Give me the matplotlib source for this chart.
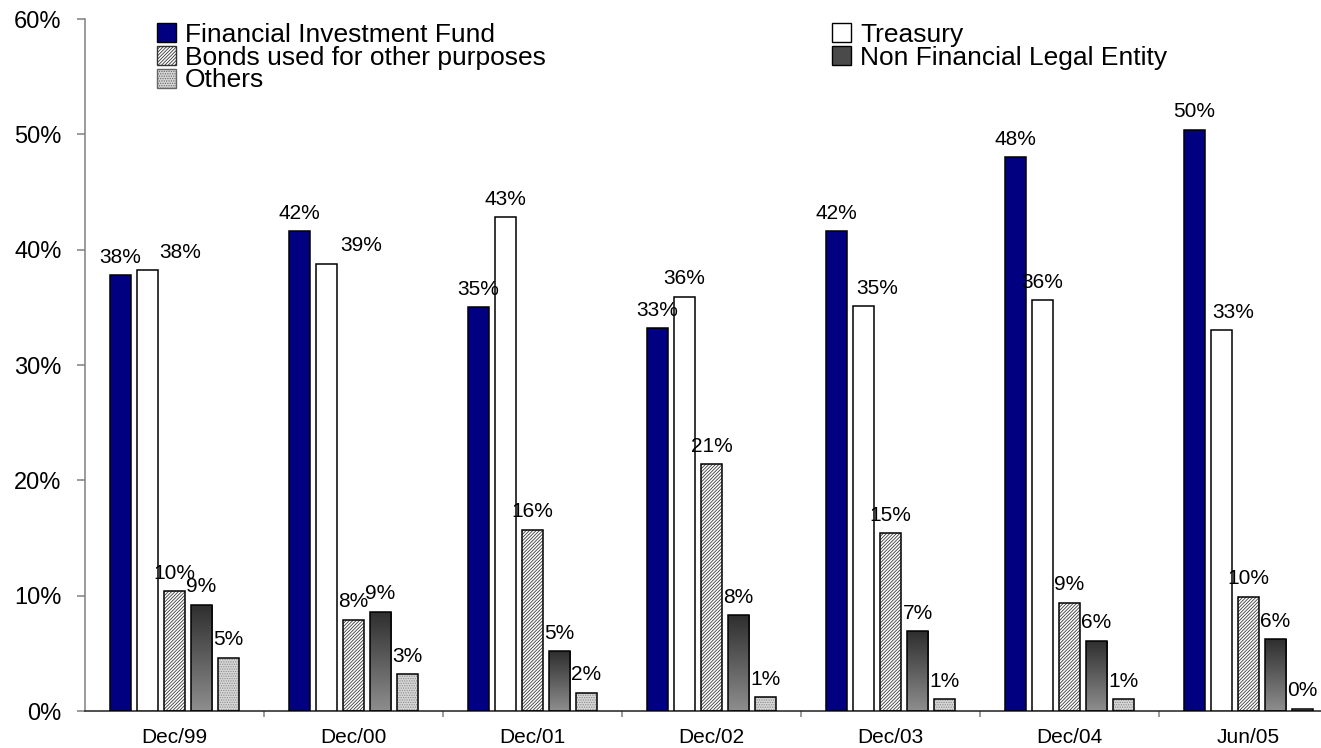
import numpy as np
import matplotlib.pyplot as plt
from matplotlib.patches import Patch
from matplotlib.colors import LinearSegmentedColormap
from matplotlib.ticker import PercentFormatter, FixedLocator

plt.rcParams['font.family'] = ['Liberation Sans', 'DejaVu Sans']
plt.rcParams['hatch.linewidth'] = 0.6

periods = ['Dec/99', 'Dec/00', 'Dec/01', 'Dec/02', 'Dec/03', 'Dec/04', 'Jun/05']
investment_fund = [37.8, 41.6, 35.0, 33.2, 41.6, 48.0, 50.4]
treasury = [38.2, 38.8, 42.8, 35.9, 35.1, 35.6, 33.0]
other_bonds = [10.4, 7.9, 15.7, 21.4, 15.4, 9.4, 9.9]
non_financial = [9.2, 8.6, 5.2, 8.3, 6.9, 6.1, 6.2]
others = [4.6, 3.2, 1.6, 1.2, 1.0, 1.0, 0.2]

# treasury labels sit a little to the right in some periods (pixels)
treasury_label_shift = [33, 35, 0, 0, 14, 0, 12]

W, H = 1321, 748
fig = plt.figure(figsize=(W / 100, H / 100), dpi=100)
ax = fig.add_axes([85 / W, 37 / H, 7 * 179 / W, 692 / H])

x = np.arange(len(periods))
step = 0.151
width = 0.118
edge = dict(edgecolor='black', linewidth=1.1)

b_fund = ax.bar(x - 2 * step, investment_fund, width, color='#000080', zorder=3, **edge)
b_tre = ax.bar(x - step, treasury, width, color='white', zorder=3, **edge)

# hatched bars: hatch layer first, black outline on top
ax.bar(x, other_bonds, width, color='white', edgecolor='#3a3a3a', hatch='//////////', linewidth=0, zorder=2)
b_bonds = ax.bar(x, other_bonds, width, facecolor='none', zorder=3, **edge)

# gradient bars, dark at the top
b_nf = ax.bar(x + step, non_financial, width, facecolor='none', zorder=3, **edge)
grad = np.linspace(0, 1, 256).reshape(-1, 1)
cmap = LinearSegmentedColormap.from_list('nf', ['#8e8e8e', '#2e2e2e'])
for bar in b_nf:
    x0, w, h = bar.get_x(), bar.get_width(), bar.get_height()
    im = ax.imshow(grad, cmap=cmap, extent=[x0, x0 + w, 0, h], origin='lower',
                   aspect='auto', zorder=2)
    im.set_clip_path(bar)

ax.bar(x + 2 * step, others, width, color='#d6d6d6', edgecolor='#8c8c8c', hatch='.......', linewidth=0, zorder=2)
b_oth = ax.bar(x + 2 * step, others, width, facecolor='none', zorder=3, **edge)

ax.set_xlim(-0.5, len(periods) - 0.5)
ax.set_ylim(0, 60)


def label_bars(bars, values, shifts=None):
    for i, (bar, v) in enumerate(zip(bars, values)):
        dx = 0 if shifts is None else shifts[i] * 0.72
        ax.annotate(f'{v:.0f}%', (bar.get_x() + bar.get_width() / 2, v),
                    xytext=(dx, 9), textcoords='offset points',
                    ha='center', va='baseline', fontsize=15, zorder=4)


label_bars(b_fund, investment_fund)
label_bars(b_tre, treasury, treasury_label_shift)
label_bars(b_bonds, other_bonds)
label_bars(b_nf, non_financial)
label_bars(b_oth, others)

# axes styling
for side in ['top', 'right']:
    ax.spines[side].set_visible(False)
ax.spines['left'].set_color('#808080')
ax.spines['left'].set_linewidth(1.1)
ax.spines['bottom'].set_color('#202020')
ax.spines['bottom'].set_linewidth(1.1)

ax.yaxis.set_major_locator(FixedLocator(np.arange(0, 61, 10)))
ax.yaxis.set_major_formatter(PercentFormatter(decimals=0))
ax.tick_params(axis='y', direction='out', length=6, width=1.1, color='#808080',
               pad=11, labelsize=17)

ax.set_xticks(x)
ax.set_xticklabels(periods)
ax.set_xticks(x[:-1] + 0.5, minor=True)
ax.tick_params(axis='x', which='major', length=0, pad=12.5, labelsize=15)
ax.tick_params(axis='x', which='minor', direction='out', length=4.5, width=1.1, color='#808080')

# legend in two blocks
leg_kw = dict(frameon=False, fontsize=19, loc='upper left', borderpad=0, borderaxespad=0,
              handlelength=0.72, handleheight=0.72, handletextpad=0.35, labelspacing=-0.05)
left_handles = [
    Patch(facecolor='#000080', edgecolor='black', label='Financial Investment Fund'),
    Patch(facecolor='white', edgecolor='#333333', hatch='//////////', label='Bonds used for other purposes'),
    Patch(facecolor='#d6d6d6', edgecolor='#666666', hatch='.......', label='Others'),
]
right_handles = [
    Patch(facecolor='white', edgecolor='black', label='Treasury'),
    Patch(facecolor='#4a4a4a', edgecolor='black', label='Non Financial Legal Entity'),
]
fig.legend(handles=left_handles, bbox_to_anchor=(157 / W, 1 - 23 / H), **leg_kw)
fig.legend(handles=right_handles, bbox_to_anchor=(832 / W, 1 - 23 / H), **leg_kw)

fig.savefig('out.png', dpi=100)
